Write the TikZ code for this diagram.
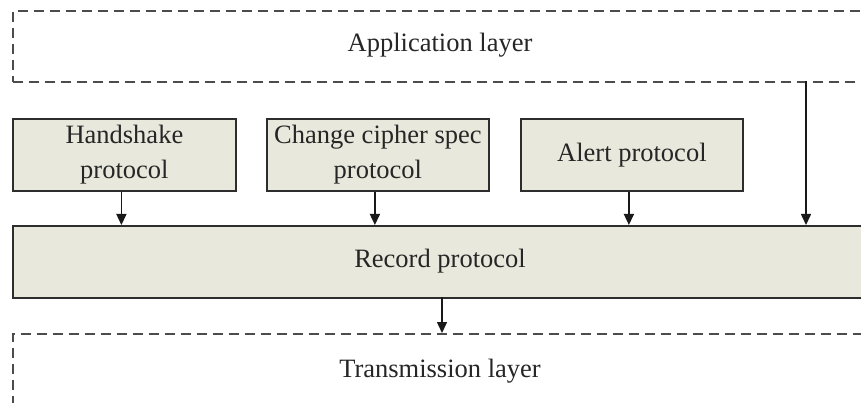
\documentclass[tikz,border=0pt]{standalone}
\usepackage{fontspec}
\setmainfont{Liberation Serif}
\usetikzlibrary{arrows.meta}
\definecolor{boxfill}{RGB}{232,233,220}
\definecolor{boxline}{RGB}{45,45,45}
\begin{document}
\begin{tikzpicture}[x=1pt,y=-1pt,
  layer/.style={draw=boxline!85, line width=1.8pt, dash pattern=on 10pt off 6pt, anchor=north west, inner sep=0pt},
  lbl/.style={font=\fontsize{26.5}{34}\selectfont, text=black!85},
  proto/.style={draw=boxline, fill=boxfill, line width=1.8pt, inner sep=0pt, anchor=north west,
    minimum height=72pt, align=center, font=\fontsize{26.5}{35}\selectfont, text=black!85},
  conn/.style={draw=black!90, line width=1.5pt, -{Triangle[length=11pt,width=10pt]}}]
\useasboundingbox[fill=white] (0,0) rectangle (861,403);
% layers
\node[layer, minimum width=860pt, minimum height=71pt] (app) at (12,10) {};
\node[lbl] (apptext) at (440,45) {Application layer};
\node[proto, minimum width=223pt] (hs) at (12,118) {Handshake\\protocol};
\node[proto, minimum width=222pt] (ccs) at (266,118) {Change cipher spec\\protocol};
\node[proto, minimum width=222pt] (alert) at (520,118) {Alert protocol};
\node[proto, minimum width=860pt] (rec) at (12,225) {};
\node[lbl] (rectext) at (440,261) {Record protocol};
\node[layer, minimum width=860pt, minimum height=90pt] (trans) at (12,333) {};
\node[lbl] (transtext) at (440,371) {Transmission layer};
% connectors
\coordinate (appout) at (806,81);
\draw[conn] ([xshift=-3pt]hs.south) -- ([xshift=-3pt]hs.south |- rec.north);
\draw[conn] ([xshift=-3pt]ccs.south) -- ([xshift=-3pt]ccs.south |- rec.north);
\draw[conn] ([xshift=-3pt]alert.south) -- ([xshift=-3pt]alert.south |- rec.north);
\draw[conn] (appout) -- (appout |- rec.north);
\coordinate (recout) at (442,297);
\draw[conn] (recout) -- (recout |- trans.north);
\end{tikzpicture}
\end{document}
